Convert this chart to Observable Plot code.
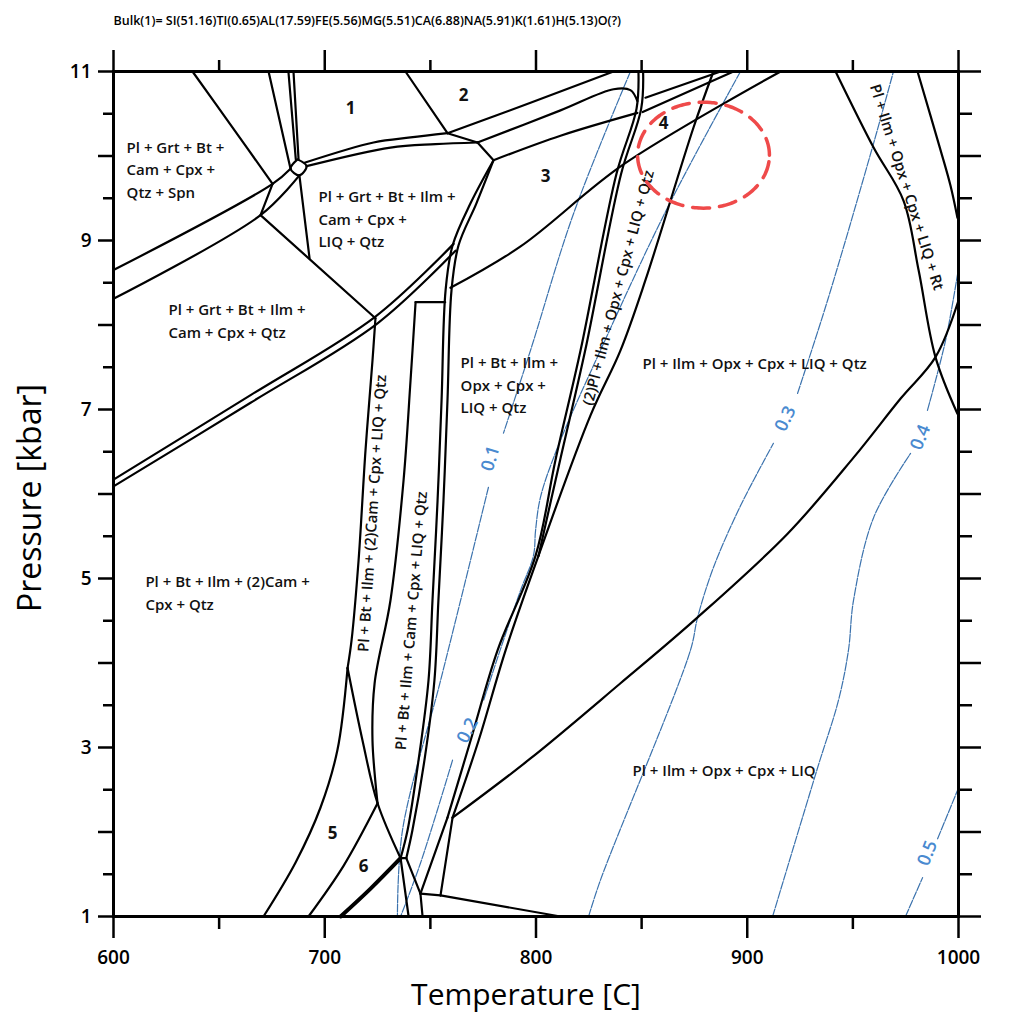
<!DOCTYPE html>
<html><head><meta charset="utf-8">
<script src="https://cdn.jsdelivr.net/npm/d3@7"></script>
<script src="https://cdn.jsdelivr.net/npm/@observablehq/plot@0.6"></script>
<style>body{margin:0;background:#fff} svg{display:block}</style>
</head><body><div id="chart"></div>
<script>
// ---- axis values ----
const xTicks = [600, 700, 800, 900, 1000];
const xMinor = [650, 750, 850, 950];
const yInt = [1,2,3,4,5,6,7,8,9,10,11];
const yHalf = [1.5,2.5,3.5,4.5,5.5,6.5,7.5,8.5,9.5,10.5];
const yLabeled = [1,3,5,7,9,11];
const titleText = "Bulk(1)= SI(51.16)TI(0.65)AL(17.59)FE(5.56)MG(5.51)CA(6.88)NA(5.91)K(1.61)H(5.13)O(?)";

// ---- phase boundaries [T (C), P (kbar)] ----
const bTopA = [[637.4,11],[656.3,10.34],[675.3,9.67]];
const bLeftUpper = [[600,8.65],[675.3,9.67],[683.8,9.85]];
const bLeftLower = [[600,8.31],[669.6,9.30],[688.0,9.77]];
const bAB = [[675.3,9.67],[669.6,9.30]];
const bBC = [[669.6,9.30],[724.0,8.08]];
const bDiamond = [[687.1,9.96],[691.4,9.88],[688.0,9.77],[683.8,9.85],[687.1,9.96]];
const bTopD1 = [[673.4,11],[683.8,9.85]];
const bTopD2 = [[682.8,11],[686.3,9.96]];
const bTopD3 = [[685.2,11],[687.6,9.96]];
const bDiamondDown = [[688.0,9.77],[692.8,8.79]];
const bUpperCurve = [[690.4,9.92],[723.1,10.16],[740.6,10.22],[758.1,10.27]];
const bLowerCurve = [[691.4,9.88],[731.1,10.10],[752.4,10.14],[772.3,10.16]];
const bTopE = [[738.2,11],[758.1,10.27]];
const bEF = [[758.1,10.27],[772.3,10.16]];
const bFD = [[772.3,10.16],[779.9,9.95]];
const bEtop = [[758.1,10.27],[797.4,10.63],[836.7,11]];
const bArch = [[772.3,10.16],[811.6,10.54],[836.7,10.79],[844.7,10.78],[848.0,10.65]];
const bDO = [[779.9,9.95],[811.6,10.24],[848.0,10.51]];
const bO = [[850.5,10.52],[893.5,11]];
const bN = [[851.8,10.69],[887.4,11]];
const bHleft = [[848.5,11],[847.6,10.56],[838.1,9.79],[821.1,7.70],[809.2,6.40],[799.8,5.27],[781.8,4.15],[769.0,3.08],[758.1,2.17]];
const bHright = [[850.7,11],[849.8,10.56],[840.3,9.79],[823.3,7.70],[811.4,6.40],[801.2,5.27]];
const bLowDoubleR = [[801.2,5.27],[785.6,4.15],[772.8,3.08],[760.5,2.17]];
const bM = [[801.2,5.27],[825.8,6.93],[840.0,7.70],[851.8,8.53],[874.6,10.34],[884.0,11]];
const bL = [[759.5,8.44],[792.7,8.93],[841.4,9.90],[915.8,11]];
const bLeftDoubleU = [[600,6.17],[664.9,7.17],[724.0,8.10],[761.0,8.96]];
const bLeftDoubleL = [[600,6.09],[664.9,7.08],[725.0,8.02],[761.9,8.88]];
const bDsteepL = [[779.9,9.95],[769.0,9.44],[760.5,8.94],[757.2,8.41],[755.3,7.11],[753.4,5.92],[751.0,4.74],[749.1,3.79],[744.4,2.85],[739.2,2.02],[735.9,1.69]];
const bDsteepR = [[779.9,9.95],[771.8,9.44],[763.3,8.94],[760.0,8.41],[758.1,7.11],[756.2,5.92],[753.8,4.74],[751.9,3.79],[747.2,2.85],[741.5,2.02],[738.6,1.69]];
const bHoriz = [[743.0,8.27],[757.0,8.27]];
const bG = [[743.0,8.27],[740.6,7.34],[737.3,6.16],[731.1,4.74],[723.6,3.76],[722.6,3.08],[725.0,2.34]];
const bF = [[724.0,8.08],[722.6,7.58],[719.3,6.52],[716.0,5.21],[712.7,4.27],[710.8,3.94]];
const bF5 = [[710.8,3.94],[706.0,2.97],[698.0,2.29],[686.2,1.64],[671.0,1]];
const bFright = [[710.8,3.94],[717.9,3.08],[725.0,2.34],[735.9,1.69]];
const b56 = [[725.0,2.34],[708.9,1.60],[692.3,1]];
const bV2down = [[735.9,1.69],[739.7,1]];
const bV2V3 = [[735.9,1.69],[738.6,1.69]];
const bV3 = [[738.6,1.69],[745.3,1.27]];
const bHz2 = [[745.3,1.27],[754.8,1.25]];
const bV4down = [[745.3,1.27],[746.3,1]];
const bTail = [[754.8,1.25],[811.6,1]];
const bEndL = [[758.1,2.17],[745.3,1.27]];
const bEndR = [[760.5,2.17],[754.8,1.25]];
const bK = [[760.5,2.17],[797.4,2.87],[840.0,3.76],[876.5,4.54],[919.1,5.53],[950.3,6.43],[972.6,7.13],[989.1,7.62],[1000,8.29]];
const bRt = [[941.8,11],[959.8,10.10],[974.0,9.47],[981.1,8.65],[989.1,7.62],[999.5,6.95]];
const bRight = [[980.6,11],[991.5,10.07],[996.2,9.65],[999.5,9.27]];
const b6thick = [[707.5,1],[721.7,1.33],[735.9,1.69]];

// ---- melt-fraction isopleths (two pieces each, split at label) ----
const c01a = [[844.7,11],[817.8,9.32],[797.4,7.70],[784.6,6.72]];
const c01b = [[777.5,6.08],[764.3,4.74],[754.8,3.79],[736.8,2.02],[734.4,1]];
const c02a = [[896.8,11],[862.3,9.39],[830.5,7.70],[810.2,6.55],[802.1,5.96],[799.8,5.57],[798.8,5.27],[792.7,4.86],[784.6,4.27],[775.2,3.56]];
const c02b = [[760.5,2.85],[745.3,1.63],[735.9,1]];
const c03a = [[824.9,1],[830.5,1.43],[873.1,4.15],[876.5,4.54],[884.0,5.13],[896.8,5.86],[912.4,6.60]];
const c03b = [[923.8,7.19],[938.0,8.29],[959.8,10.15],[969.2,11]];
const c04a = [[912.0,1],[933.3,2.76],[943.2,3.56],[947.9,4.15],[950.3,4.74],[959.8,5.72],[977.3,6.48]];
const c04b = [[985.3,6.99],[993.9,7.82],[1000,8.67]];
const c05a = [[974.9,1],[983.0,1.46]];
const c05b = [[990.1,1.92],[999.5,2.49]];
const contourLabels = [
  {text:"0.1", T:778.5, P:6.42},
  {text:"0.2", T:767.6, P:3.20},
  {text:"0.3", T:918.1, P:6.89},
  {text:"0.4", T:982.0, P:6.67},
  {text:"0.5", T:985.3, P:1.75}
];

// ---- field labels ----
const fieldLabels = [
  {text:"Pl + Grt + Bt +\nCam + Cpx +\nQtz + Spn", T:606.2, P:9.86},
  {text:"Pl + Grt + Bt + Ilm +\nCam + Cpx +\nLIQ + Qtz", T:697.0, P:9.27},
  {text:"Pl + Grt + Bt + Ilm +\nCam + Cpx + Qtz", T:626.0, P:8.07},
  {text:"Pl + Bt + Ilm +\nOpx + Cpx +\nLIQ + Qtz", T:764.3, P:7.31},
  {text:"Pl + Bt + Ilm + (2)Cam +\nCpx + Qtz", T:615.1, P:4.85},
  {text:"Pl + Ilm + Opx + Cpx + LIQ + Qtz", T:850.4, P:7.56},
  {text:"Pl + Ilm + Opx + Cpx + LIQ", T:845.7, P:2.75}
];
const numLabels = [
  {text:"1", T:712.2, P:10.56},
  {text:"2", T:765.7, P:10.72},
  {text:"3", T:804.5, P:9.76},
  {text:"4", T:860.4, P:10.38},
  {text:"5", T:703.7, P:1.98},
  {text:"6", T:718.4, P:1.59}
];
const rotLabelA = [{text:"Pl + Bt + Ilm + (2)Cam + Cpx + LIQ + Qtz", T:722.6, P:5.77}];
const rotLabelB = [{text:"Pl + Bt + Ilm + Cam + Cpx + LIQ + Qtz", T:741.1, P:4.50}];
const rotLabelC = [{text:"(2)Pl + Ilm + Opx + Cpx + LIQ + Qtz", T:839.1, P:8.44}];
const rotLabelD = [{text:"Pl + Ilm + Opx + Cpx + LIQ + Rt", T:975.4, P:9.63}];

// highlighted area: centre T, centre P, radius T, radius P
const highlight = [879.3, 10.01, 31.2, 0.627];

// ---- build tables ----
const thinLines = [bTopA,bLeftUpper,bLeftLower,bAB,bBC,bDiamond,bTopD1,bTopD2,bTopD3,bDiamondDown,
  bUpperCurve,bLowerCurve,bTopE,bEF,bFD,bEtop,bArch,bDO,bO,bN,bHleft,bHright,bLowDoubleR,bM,bL,
  bLeftDoubleU,bLeftDoubleL,bDsteepL,bDsteepR,bHoriz,bG,bF,bF5,bFright,b56,bV2down,bV2V3,bV3,bHz2,
  bV4down,bTail,bEndL,bEndR,bK,bRt,bRight];
const toRows = arr => arr.flatMap((pts, i) => pts.map(([T, P]) => ({id: i, T, P})));
const lineRows = toRows(thinLines);
const thickRows = toRows([b6thick]);
const contourRows = toRows([c01a,c01b,c02a,c02b,c03a,c03b,c04a,c04b,c05a,c05b]);
const [eT, eP, rT, rP] = highlight;
const ellipseRows = d3.range(0, 361, 3).map(a => ({T: eT + rT*Math.cos(a*Math.PI/180), P: eP + rP*Math.sin(a*Math.PI/180)}));

const FONT = "'Open Sans', sans-serif";
const blueLine = "#3b72ad";
const blueText = "#4a8ad0";
const LBL = {fontSize: 15, fontWeight: 600, fill: "#111", letterSpacing: "-0.2px"};

const plot = Plot.plot({
  width: 1029, height: 1018,
  marginLeft: 113, marginRight: 71, marginTop: 71, marginBottom: 102,
  x: {domain: [600, 1000]},
  y: {domain: [1, 11]},
  style: {fontFamily: FONT, background: "white", overflow: "visible", color: "black"},
  marks: [
    Plot.line(contourRows, {x: "T", y: "P", z: "id", stroke: blueLine, strokeWidth: 1.2, strokeDasharray: "8,1.5", curve: "catmull-rom"}),
    Plot.line(lineRows, {x: "T", y: "P", z: "id", stroke: "black", strokeWidth: 2.2, curve: "catmull-rom", strokeLinejoin: "round"}),
    Plot.line(thickRows, {x: "T", y: "P", z: "id", stroke: "black", strokeWidth: 4, curve: "catmull-rom"}),
    // contour labels
    Plot.text([contourLabels[0]], {x:"T", y:"P", text:"text", rotate:-74, fill: blueText, fontSize:18, fontWeight:600}),
    Plot.text([contourLabels[1]], {x:"T", y:"P", text:"text", rotate:-63, fill: blueText, fontSize:18, fontWeight:600}),
    Plot.text([contourLabels[2]], {x:"T", y:"P", text:"text", rotate:-64, fill: blueText, fontSize:18, fontWeight:600}),
    Plot.text([contourLabels[3]], {x:"T", y:"P", text:"text", rotate:-68, fill: blueText, fontSize:18, fontWeight:600}),
    Plot.text([contourLabels[4]], {x:"T", y:"P", text:"text", rotate:-69, fill: blueText, fontSize:18, fontWeight:600}),
    // field labels
    Plot.text(fieldLabels, {x:"T", y:"P", text:"text", textAnchor:"start", lineAnchor:"middle", lineHeight:1.5, ...LBL}),
    Plot.text(numLabels, {x:"T", y:"P", text:"text", fontSize:17, fontWeight:700, fill:"#111"}),
    Plot.text(rotLabelA, {x:"T", y:"P", text:"text", rotate:-86.3, ...LBL}),
    Plot.text(rotLabelB, {x:"T", y:"P", text:"text", rotate:-85.3, ...LBL}),
    Plot.text(rotLabelC, {x:"T", y:"P", text:"text", rotate:-75.3, ...LBL}),
    Plot.text(rotLabelD, {x:"T", y:"P", text:"text", rotate:72.5, ...LBL}),
    // highlight
    Plot.line(ellipseRows, {x:"T", y:"P", stroke:"#ef4a4a", strokeWidth:3.5, strokeDasharray:"17,10", curve:"catmull-rom"}),
    // frame and axes
    Plot.frame({stroke:"black", strokeWidth:3}),
    Plot.axisX(xTicks, {anchor:"bottom", tickSize:22, tickPadding:12, fontSize:19, fontWeight:600, strokeWidth:2.5, label:null, tickFormat: d => String(d)}),
    Plot.axisX(xMinor, {anchor:"bottom", tickSize:13, strokeWidth:2.5, label:null, tickFormat: () => ""}),
    Plot.axisX(xTicks, {anchor:"top", tickSize:22, strokeWidth:2.5, label:null, tickFormat: () => ""}),
    Plot.axisX(xMinor, {anchor:"top", tickSize:12, strokeWidth:2.5, label:null, tickFormat: () => ""}),
    Plot.axisY(yInt, {anchor:"left", tickSize:15, tickPadding:7, fontSize:19, fontWeight:600, strokeWidth:2.5, label:null, tickFormat: d => yLabeled.includes(d) ? String(d) : ""}),
    Plot.axisY(yHalf, {anchor:"left", tickSize:10, strokeWidth:2.5, label:null, tickFormat: () => ""}),
    Plot.axisY(yInt, {anchor:"right", tickSize:22, strokeWidth:2.5, label:null, tickFormat: () => ""}),
    Plot.axisY(yHalf, {anchor:"right", tickSize:13, strokeWidth:2.5, label:null, tickFormat: () => ""}),
    // titles
    Plot.text([titleText], {frameAnchor:"top-left", dy:-55, text: d => d, textAnchor:"start", fontSize:12.5, fontWeight:600, letterSpacing:"-0.3px"}),
    Plot.text(["Temperature [C]"], {frameAnchor:"bottom", textAnchor:"middle", dx:-10, dy:88, text: d => d, fontSize:30}),
    Plot.text(["Pressure [kbar]"], {frameAnchor:"left", textAnchor:"middle", dx:-83, dy:4, text: d => d, rotate:-90, fontSize:32})
  ]
});
document.getElementById("chart").appendChild(plot);
</script>
</body></html>
